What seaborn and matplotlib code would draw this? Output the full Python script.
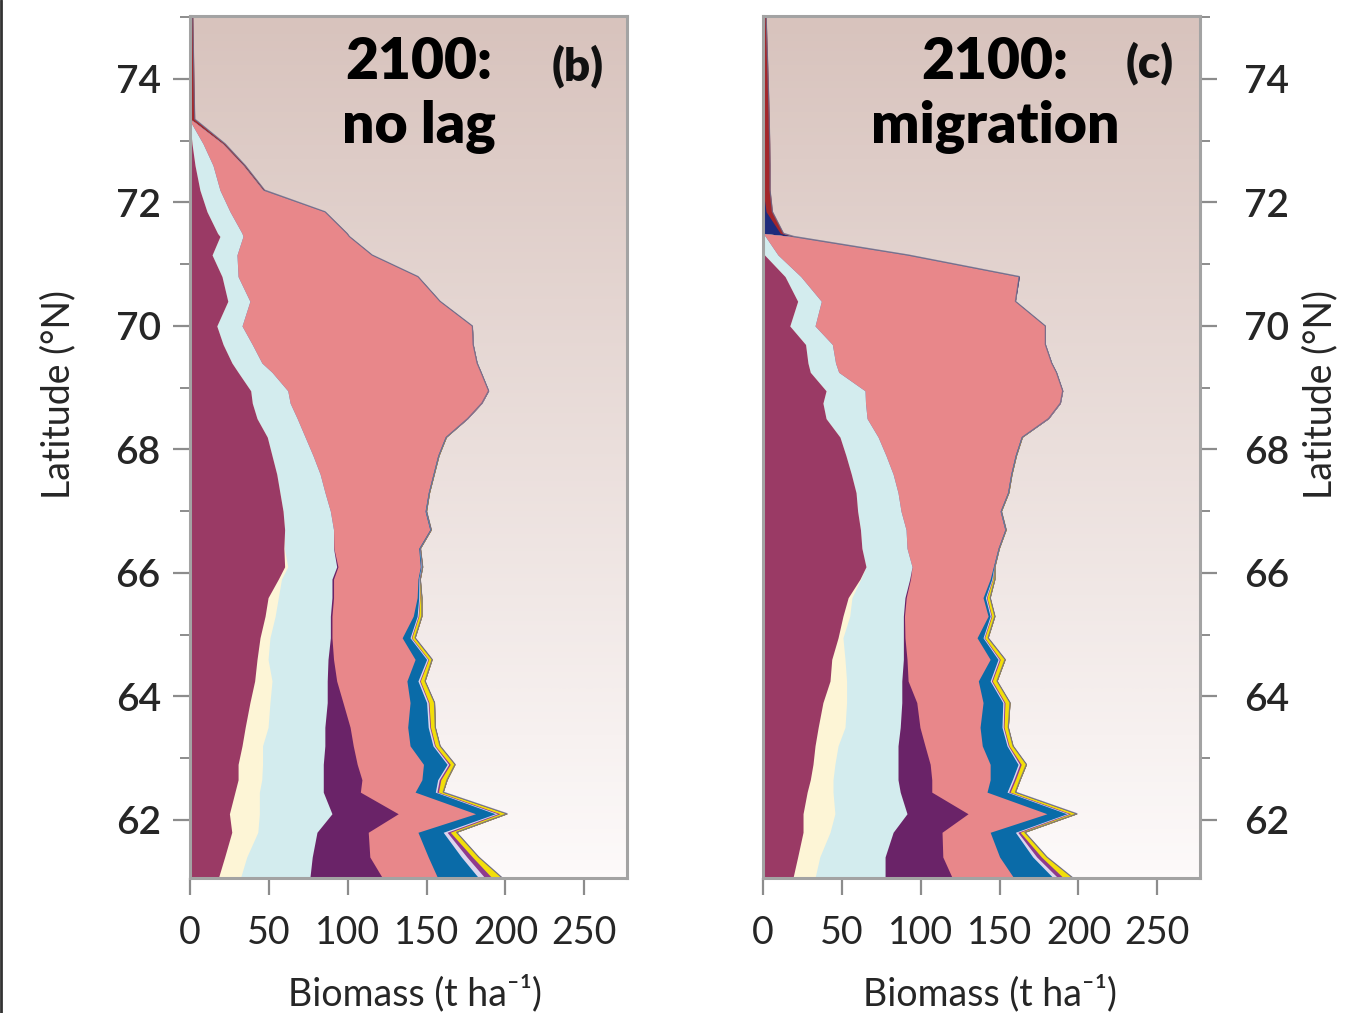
import numpy as np
import matplotlib
matplotlib.use("Agg")
import matplotlib.pyplot as plt
import seaborn as sns
from matplotlib.colors import LinearSegmentedColormap
from matplotlib.ticker import MultipleLocator
from matplotlib.lines import Line2D

sns.set_theme(style="ticks")
plt.rcParams['font.family'] = ['Lato', 'DejaVu Sans']

# Latitude grid (°N) shared by both panels
latitude = [61.06, 61.4, 61.8, 62.1, 62.45, 62.65, 62.9, 63.2, 63.5, 63.9,
            64.25, 64.6, 64.95, 65.3, 65.6, 65.9, 66.1, 66.4, 66.7, 67.0,
            67.3, 67.6, 67.9, 68.2, 68.5, 68.75, 68.95, 69.25, 69.4, 69.7,
            70.0, 70.4, 70.8, 71.15, 71.45, 71.5, 71.85, 72.2, 72.6, 72.95,
            73.3, 73.35, 74.0, 75.02]

# ---- Panel (b): 2100, no lag -- biomass per PFT (t/ha) ----
nolag_pft1 = [18, 22, 26.5, 25, 28.5, 30.5, 30.5, 33, 35, 38,
              41, 42.5, 44.4, 47.6, 49.5, 56, 60, 59.5, 60, 59,
              57, 55, 52, 49, 42.5, 39.5, 38.5, 30.5, 26.6, 21,
              17, 24, 20.3, 14, 19, 17.5, 10.8, 6.3, 3.2, 1.3,
              0, 0, 0, 0]
nolag_pft2 = [14, 14, 16.5, 19, 15.5, 15, 15.5, 13, 14.5, 12.7,
              11, 7, 6.3, 6.4, 6.5, 2, 2, 0.3, 0, 0,
              0, 0, 0, 0, 0, 0, 0, 0, 0, 0,
              0, 0, 0, 0, 0, 0, 0, 0, 0, 0,
              0, 0, 0, 0]
nolag_pft3 = [44, 41.5, 37.5, 46, 40.5, 39, 38.5, 39.5, 36, 36.3,
              35, 38, 38.3, 35, 34, 32, 31, 31.2, 31, 30,
              28.6, 27.5, 26, 24, 25.5, 24, 23.5, 21.5, 19, 18.5,
              16, 14, 10.2, 15.8, 14.6, 15.5, 14.6, 12.7, 11.4, 7,
              0.5, 0, 0, 0]
nolag_pft4 = [46, 36.5, 32.5, 42, 23.5, 24.5, 21.5, 18, 16, 10,
              6, 3.5, 1, 1, 1, 1, 0.8, 0.2, 0, 0,
              0, 0, 0, 0, 0, 0, 0, 0, 0, 0,
              0, 0, 0, 0, 0, 0, 0, 0, 0, 0,
              0, 0, 0, 0]
nolag_pft5 = [35, 37, 31.5, 49, 34.7, 38, 42, 36, 36.5, 42.5,
              44.5, 51.7, 44.5, 51.5, 53, 53.5, 52.2, 53.8, 61, 60,
              65.4, 71.5, 79, 88.7, 108, 121.5, 127.3, 132.5, 136.4, 140,
              146, 120.5, 114, 85.6, 67.4, 66.5, 60.2, 27.3, 19.2, 12.5,
              2.5, 0, 0, 0]
nolag_pft6 = [26, 21, 16, 12.5, 12.8, 10, 15, 14.5, 13, 10.5,
              7, 7.3, 5, 2.5, 1, 0.5, 0.5, 0.5, 0.4, 0.4,
              0.3, 0.3, 0.3, 0.3, 0, 0, 0, 0, 0, 0,
              0, 0, 0, 0, 0, 0, 0, 0, 0, 0,
              0, 0, 0, 0]
nolag_pft7 = [4, 3.5, 2.5, 1.5, 1, 1, 1, 1, 1, 1,
              1, 0.8, 0.7, 0.6, 0.5, 0.3, 0.3, 0.2, 0.15, 0.15,
              0.15, 0.15, 0.15, 0.15, 0, 0, 0, 0, 0, 0,
              0, 0, 0, 0, 0, 0, 0, 0, 0, 0,
              0, 0, 0, 0]
nolag_pft8 = [4.5, 3.5, 2, 1.5, 1, 1, 1, 0.5, 0.5, 0.5,
              0.5, 0.4, 0.4, 0.4, 0.3, 0.2, 0.2, 0.1, 0.1, 0.1,
              0.1, 0.1, 0.1, 0.1, 0, 0, 0, 0, 0, 0,
              0, 0, 0, 0, 0, 0, 0, 0, 0, 0,
              0, 0, 0, 0]
nolag_pft9 = [6.5, 4, 4, 4.5, 3, 4, 3, 3, 3, 3.5,
              3, 2.3, 2.1, 2, 1.2, 0.5, 0.5, 0.3, 0.3, 0.3,
              0.3, 0.3, 0.3, 0.3, 0, 0, 0, 0, 0, 0,
              0, 0, 0, 0, 0, 0, 0, 0, 0, 0,
              0, 0, 0, 0]
nolag_pft10 = [0] * 44
nolag_pft11 = [0, 0, 0, 0, 0, 0, 0, 0, 0, 0,
               0, 0, 0, 0, 0, 0, 0, 0, 0, 0,
               0, 0, 0, 0, 0, 0, 0, 0, 0, 0,
               0, 0, 0, 0, 0, 0, 0, 1, 1.2, 1.5,
               2.5, 3, 2.5, 1.8]

# ---- Panel (c): 2100, migration -- biomass per PFT (t/ha) ----
migr_pft1 = [19, 22, 25.4, 25.4, 28, 30, 31.7, 33, 35, 38,
             42.5, 43.6, 47.6, 50.7, 54, 61.5, 65.3, 62.7, 61.8, 60,
             59, 56, 52.6, 48.8, 40, 38, 40, 30, 28.5, 27,
             17, 22, 14, 1, 0, 0, 0, 0, 0, 0,
             0, 0, 0, 0]
migr_pft2 = [14, 14, 17.1, 20.2, 16.4, 14.4, 13.9, 14.6, 17, 15,
             10.5, 8.4, 3.1, 4.3, 2.4, 0.5, 0, 0, 0, 0,
             0, 0, 0, 0, 0, 0, 0, 0, 0, 0,
             0, 0, 0, 0, 0, 0, 0, 0, 0, 0,
             0, 0, 0, 0]
migr_pft3 = [44.4, 41.4, 40, 45.7, 42.6, 41.2, 40, 38, 35, 35,
             35, 37, 38.3, 34, 33.6, 31, 29.2, 28.6, 28.9, 27.5,
             26.6, 26.5, 25.4, 24.2, 26, 27, 24.7, 18, 17.5, 17,
             16, 15, 10, 8.5, 1.5, 0, 0, 0, 0, 0,
             0, 0, 0, 0]
migr_pft4 = [42.6, 36.6, 31, 38.7, 20, 21.4, 20.4, 17.1, 12.5, 9.5,
             4, 2.3, 1, 0.7, 0.8, 0.5, 0, 0, 0, 0,
             0, 0, 0, 0, 0, 0, 0, 0, 0, 0,
             0, 0, 0, 0, 0, 0, 0, 0, 0, 0,
             0, 0, 0, 0]
migr_pft5 = [39, 36, 30.5, 50, 35, 37, 38, 36.3, 38.1, 42,
             44.5, 52.7, 45.7, 53, 48.7, 50.5, 51.5, 57.7, 62.6, 62.8,
             69.4, 74.5, 81.8, 90.6, 115, 123.5, 125.3, 138, 137, 135,
             146, 123, 137.7, 81.5, 16.5, 0, 0, 0, 0, 0,
             0, 0, 0, 0]
migr_pft6 = [25, 21, 16, 12.6, 12.7, 14, 17.7, 15.7, 13.9, 12.5,
             7.5, 5, 3.8, 1.3, 1.5, 1, 0.4, 0.3, 0.3, 0.3,
             0.3, 0.3, 0.3, 0.3, 0, 0, 0, 0, 0, 0,
             0, 0, 0, 0, 0, 0, 0, 0, 0, 0,
             0, 0, 0, 0]
migr_pft7 = [3, 2.5, 1.5, 1.2, 1, 1, 1, 0.8, 0.8, 0.8,
             0.8, 0.8, 0.6, 0.6, 0.6, 0.4, 0.2, 0.15, 0.15, 0.15,
             0.15, 0.15, 0.15, 0.15, 0, 0, 0, 0, 0, 0,
             0, 0, 0, 0, 0, 0, 0, 0, 0, 0,
             0, 0, 0, 0]
migr_pft8 = [3.5, 3, 1.5, 1.2, 1, 1, 1, 0.5, 0.5, 0.6,
             0.6, 0.6, 0.4, 0.4, 0.4, 0.3, 0.1, 0.1, 0.1, 0.1,
             0.1, 0.1, 0.1, 0.1, 0, 0, 0, 0, 0, 0,
             0, 0, 0, 0, 0, 0, 0, 0, 0, 0,
             0, 0, 0, 0]
migr_pft9 = [6, 3.5, 3, 4, 3.3, 3, 3.3, 2.5, 2.7, 3.2,
             3, 3.1, 2.2, 2, 2, 1.3, 0.3, 0.3, 0.3, 0.3,
             0.3, 0.3, 0.3, 0.3, 0, 0, 0, 0, 0, 0,
             0, 0, 0, 0, 0, 0, 0, 0, 0, 0,
             0, 0, 0, 0]
migr_pft10 = [0, 0, 0, 0, 0, 0, 0, 0, 0, 0,
              0, 0, 0, 0, 0, 0, 0, 0, 0, 0,
              0, 0, 0, 0, 0, 0, 0, 0, 0, 0,
              0, 0, 0.8, 1, 1, 11, 2, 0, 0, 0,
              0, 0, 0, 0]
migr_pft11 = [0, 0, 0, 0, 0, 0, 0, 0, 0, 0,
              0, 0, 0, 0, 0, 0, 0, 0, 0, 0,
              0, 0, 0, 0, 0, 0, 0, 0, 0, 0,
              0, 0, 0, 0, 0.5, 2, 4, 4.5, 4.5, 4.3,
              4, 4, 3.3, 2]

pft_colors = ['#9A3A65', '#FDF5D6', '#D3ECEE', '#6A2368', '#E8878A',
              '#0A6BA8', '#DDD6EE', '#8E3B8E', '#F2DE0A', '#1F2B7C', '#A3262A']

x_ticks = [0, 50, 100, 150, 200, 250]
lat_ticks = [62, 64, 66, 68, 70, 72, 74]
x_max = 277
lat_min, lat_max = 61.06, 75.02

fig = plt.figure(figsize=(13.53, 10.13), dpi=100)
ax_b = fig.add_axes([0.1404, 0.1333, 0.3230, 0.8509])
ax_c = fig.add_axes([0.5639, 0.1333, 0.3230, 0.8509])

bg_cmap = LinearSegmentedColormap.from_list('bg', ['#FDFAFA', '#D8C3BD'])
grad = np.linspace(0, 1, 256).reshape(-1, 1)


def draw_panel(ax, layers):
    ax.imshow(grad, extent=[0, x_max, lat_min, lat_max], origin='lower',
              aspect='auto', cmap=bg_cmap, zorder=0, interpolation='bicubic')
    lat = np.array(latitude)
    tops = np.cumsum(np.array(layers, dtype=float), axis=0)
    # paint from the outermost layer inwards so neighbouring fills never seam
    for top, col in reversed(list(zip(tops, pft_colors))):
        ax.fill_betweenx(lat, 0, top, color=col, lw=0, zorder=2)
    sns.lineplot(x=tops[-1], y=lat, orient="y", sort=False, ax=ax,
                 color='#6C6A8A', lw=0.9, alpha=0.85, zorder=3)
    ax.set_xlim(0, x_max)
    ax.set_ylim(lat_min, lat_max)
    ax.set_xticks(x_ticks)
    ax.set_xticklabels([str(t) for t in x_ticks])
    ax.set_yticks(lat_ticks)
    ax.set_yticklabels([str(t) for t in lat_ticks], fontweight='semibold')
    ax.yaxis.set_minor_locator(MultipleLocator(1))
    ax.set_xlabel('')
    ax.set_ylabel('')
    for sp in ax.spines.values():
        sp.set_color('#A3A3A3')
        sp.set_linewidth(2.2)
        sp.set_zorder(5)
    ax.tick_params(axis='x', which='major', length=12, width=1.6,
                   color='#8C8C8C', labelsize=27, pad=15, direction='out')
    ax.tick_params(axis='y', which='major', length=12, width=1.6,
                   color='#8C8C8C', labelsize=28, direction='out')
    ax.tick_params(axis='y', which='minor', length=7, width=1.4,
                   color='#8C8C8C', direction='out')
    ax.tick_params(axis='x', which='minor', length=0)
    ax.set_facecolor('white')


draw_panel(ax_b, [nolag_pft1, nolag_pft2, nolag_pft3, nolag_pft4, nolag_pft5,
                  nolag_pft6, nolag_pft7, nolag_pft8, nolag_pft9, nolag_pft10,
                  nolag_pft11])
draw_panel(ax_c, [migr_pft1, migr_pft2, migr_pft3, migr_pft4, migr_pft5,
                  migr_pft6, migr_pft7, migr_pft8, migr_pft9, migr_pft10,
                  migr_pft11])

ax_b.tick_params(axis='y', which='both', left=True, right=False, pad=9)
ax_c.yaxis.tick_right()
ax_c.tick_params(axis='y', which='both', left=False, right=True)
ax_c.tick_params(axis='y', which='major', pad=20)

# panel headings
title_kw = dict(ha='center', va='baseline', fontsize=41, fontweight='heavy',
                color='black', zorder=6)
ax_b.text(0.524, 0.927, '2100:', transform=ax_b.transAxes, **title_kw)
ax_b.text(0.524, 0.853, 'no lag', transform=ax_b.transAxes, **title_kw)
ax_b.text(0.888, 0.925, '(b)', transform=ax_b.transAxes, ha='center',
          va='baseline', fontsize=33, fontweight='heavy', color='#111111', zorder=6)
ax_c.text(0.531, 0.927, '2100:', transform=ax_c.transAxes, **title_kw)
ax_c.text(0.531, 0.853, 'migration', transform=ax_c.transAxes, **title_kw)
ax_c.text(0.886, 0.929, '(c)', transform=ax_c.transAxes, ha='center',
          va='baseline', fontsize=33, fontweight='heavy', color='#111111', zorder=6)

# axis labels
fig.text(0.0429, 0.611, 'Latitude (°N)', rotation=90, ha='center', va='center',
         fontsize=27)
fig.text(0.9756, 0.611, 'Latitude (°N)', rotation=90, ha='center', va='center',
         fontsize=27)
fig.text(0.3067, 0.019, 'Biomass (t ha⁻¹)', ha='center', va='center', fontsize=27)
fig.text(0.7317, 0.019, 'Biomass (t ha⁻¹)', ha='center', va='center', fontsize=27)

# thin frame line on the left edge of the figure
fig.add_artist(Line2D([0.0009, 0.0009], [0, 1], transform=fig.transFigure,
                      color='#333333', lw=2))

fig.savefig('out.png', dpi=100, facecolor='white')
